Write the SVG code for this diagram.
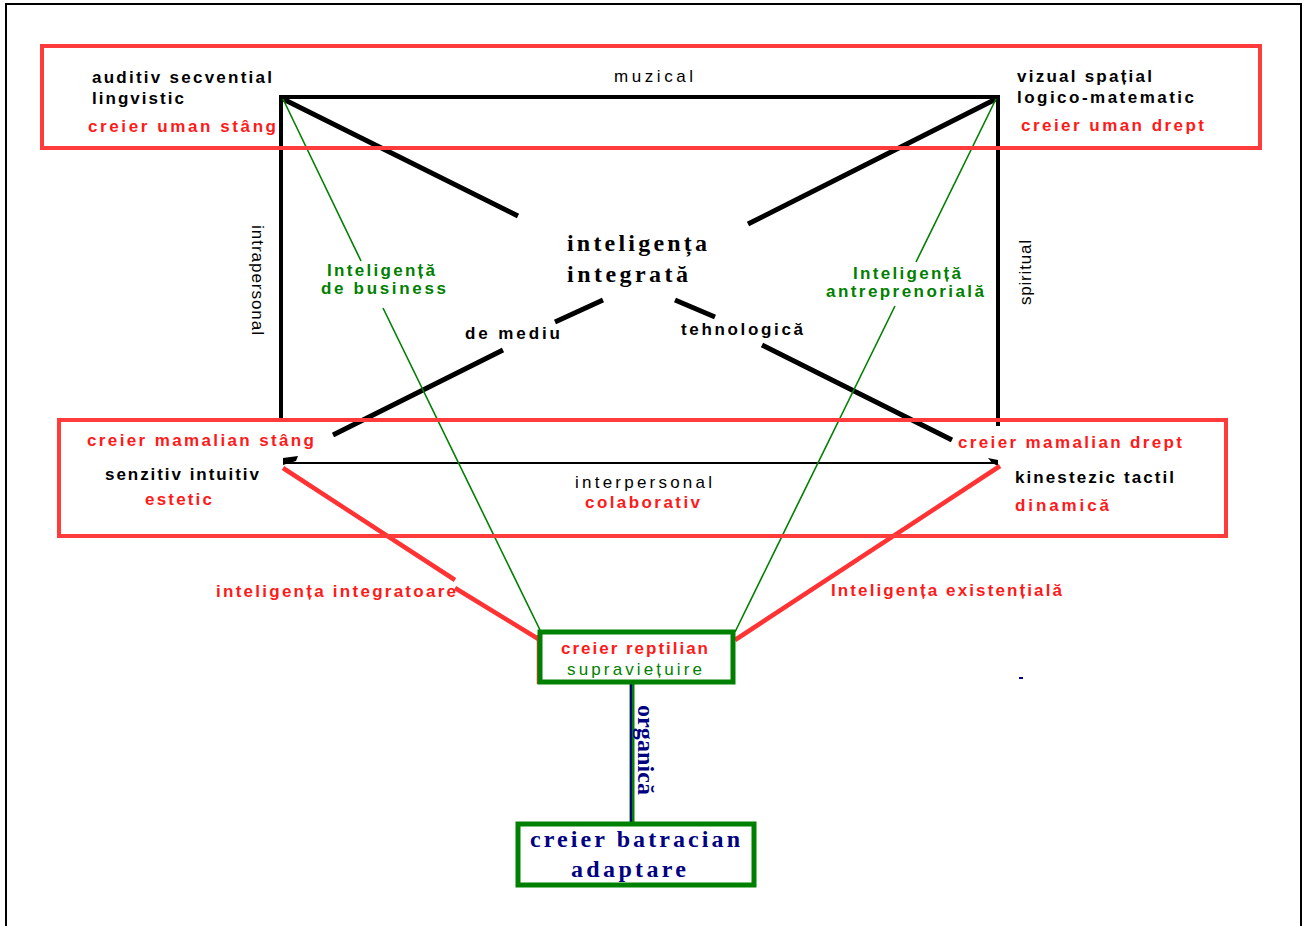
<svg xmlns="http://www.w3.org/2000/svg" width="1307" height="926" viewBox="0 0 1307 926">
<style>
.s{font-family:"Liberation Sans",Arial,sans-serif;font-size:17px;font-weight:bold}
.n{font-family:"Liberation Sans",Arial,sans-serif;font-size:17px}
.b{fill:#000}
.r{fill:#ff1a1a}
.g{fill:#008000}
.sf{font-family:"Liberation Serif","Times New Roman",serif;font-weight:bold;font-size:24px}
.nv{fill:#000080}
.box{fill:none;stroke:#ff3b3b;stroke-width:4}
.gbox{fill:#fff;stroke:#008000;stroke-width:5}
.blk{stroke:#000;fill:none;stroke-linecap:butt}
.grn{stroke:#008000;stroke-width:1.6;fill:none}
.red{stroke:#ff3333;stroke-width:4.5;fill:none}
</style>
<rect x="0" y="0" width="1307" height="926" fill="#fff"/>
<rect id="frame" x="6" y="4" width="1295" height="930" fill="none" stroke="#000" stroke-width="2"/>

<g id="connectors">
  <path class="blk" stroke-width="4" d="M281,95 V422 M279,97 H1000 M998,95 V426"/>
  <path class="blk" stroke-width="2" d="M283,463 H998"/>
  <path class="blk" stroke-width="5" d="M283,99 L518,216 M996,99 L748,224 M603,300 L555,322 M503,350 L333,435 M675,300 L715,317 M762,345 L952,440"/>
  <polygon points="283,458 298,456 296,461 283,465" fill="#000"/>
  <polygon points="988,458 998,460 998,466 992,463" fill="#000"/>
  <path class="grn" d="M283,99 L361,261 M383,308 L540,630"/>
  <path class="grn" d="M996,99 L916,262 M895,306 L735,632"/>
  <path class="red" d="M283,468 L455,580 M455,588 L540,640"/>
  <path class="red" d="M1000,466 L735,640"/>
  <path stroke="#ff3333" stroke-width="1.5" d="M537.5,635 V684 M733.5,640 V684"/>
  <path stroke="#008000" stroke-width="5" d="M632,683 V823"/>
  <path stroke="#000080" stroke-width="2" d="M631,683 V823"/>
  <rect x="1019" y="677" width="4" height="2" fill="#000080"/>
</g>

<g id="uman-stang">
  <rect class="box" x="42" y="46" width="1218" height="102"/>
  <text class="s b" x="92" y="83" textLength="180" lengthAdjust="spacing">auditiv secvential</text>
  <text class="s b" x="92" y="104" textLength="92" lengthAdjust="spacing">lingvistic</text>
  <text class="s r" x="88" y="132" textLength="188" lengthAdjust="spacing">creier uman stâng</text>
</g>
<g id="muzical"><text class="n b" x="614" y="82" textLength="79" lengthAdjust="spacing">muzical</text></g>
<g id="uman-drept">
  <text class="s b" x="1017" y="82" textLength="135" lengthAdjust="spacing">vizual spațial</text>
  <text class="s b" x="1017" y="103" textLength="177" lengthAdjust="spacing">logico-matematic</text>
  <text class="s r" x="1021" y="131" textLength="183" lengthAdjust="spacing">creier uman drept</text>
</g>
<g id="intrapersonal"><text class="n b" transform="translate(252,225) rotate(90)" textLength="110" lengthAdjust="spacing">intrapersonal</text></g>
<g id="spiritual"><text class="n b" transform="translate(1031,305) rotate(-90)" textLength="65" lengthAdjust="spacing">spiritual</text></g>
<g id="integrata">
  <text class="sf b" x="567" y="251" textLength="140" lengthAdjust="spacing">inteligența</text>
  <text class="sf b" x="567" y="282" textLength="121" lengthAdjust="spacing">integrată</text>
</g>
<g id="business">
  <text class="s g" x="327" y="276" textLength="108" lengthAdjust="spacing">Inteligență</text>
  <text class="s g" x="321" y="294" textLength="125" lengthAdjust="spacing">de business</text>
</g>
<g id="antreprenoriala">
  <text class="s g" x="853" y="279" textLength="108" lengthAdjust="spacing">Inteligență</text>
  <text class="s g" x="826" y="297" textLength="158" lengthAdjust="spacing">antreprenorială</text>
</g>
<g id="de-mediu"><text class="s b" x="465" y="339" textLength="95" lengthAdjust="spacing">de mediu</text></g>
<g id="tehnologica"><text class="s b" x="681" y="335" textLength="122" lengthAdjust="spacing">tehnologică</text></g>
<g id="mamalian">
  <rect class="box" x="59" y="420" width="1167" height="116"/>
  <text class="s r" x="87" y="446" textLength="227" lengthAdjust="spacing">creier mamalian stâng</text>
  <text class="s b" x="105" y="480" textLength="154" lengthAdjust="spacing">senzitiv intuitiv</text>
  <text class="s r" x="145" y="505" textLength="67" lengthAdjust="spacing">estetic</text>
</g>
<g id="interpersonal">
  <text class="n b" x="575" y="488" textLength="137" lengthAdjust="spacing">interpersonal</text>
  <text class="s r" x="585" y="508" textLength="115" lengthAdjust="spacing">colaborativ</text>
</g>
<g id="mamalian-drept">
  <text class="s r" x="958" y="448" textLength="224" lengthAdjust="spacing">creier mamalian drept</text>
  <text class="s b" x="1015" y="483" textLength="159" lengthAdjust="spacing">kinestezic tactil</text>
  <text class="s r" x="1015" y="511" textLength="94" lengthAdjust="spacing">dinamică</text>
</g>
<g id="integratoare"><text class="s r" x="216" y="597" textLength="240" lengthAdjust="spacing">inteligența integratoare</text></g>
<g id="existentiala"><text class="s r" x="831" y="596" textLength="231" lengthAdjust="spacing">Inteligența existențială</text></g>
<g id="reptilian">
  <rect class="gbox" x="540" y="632" width="193" height="50"/>
  <text class="s r" x="561" y="654" textLength="147" lengthAdjust="spacing">creier reptilian</text>
  <text class="n g" x="567" y="675" textLength="135" lengthAdjust="spacing">supraviețuire</text>
</g>
<g id="organica"><text class="sf nv" font-size="21" transform="translate(638,705) rotate(90)" textLength="90" lengthAdjust="spacing">organică</text></g>
<g id="batracian">
  <rect class="gbox" x="518" y="824" width="236" height="61"/>
  <text class="sf nv" x="530" y="847" textLength="210" lengthAdjust="spacing">creier batracian</text>
  <text class="sf nv" x="571" y="877" textLength="115" lengthAdjust="spacing">adaptare</text>
</g>
</svg>
